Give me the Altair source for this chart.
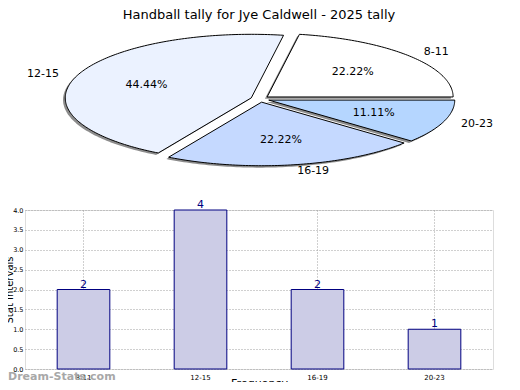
import altair as alt
import numpy as np
import pandas as pd

# ---- data ----
cats = ["8-11", "12-15", "16-19", "20-23"]
counts = [2, 4, 2, 1]
slice_colors = ["#FFFFFF", "#EBF2FF", "#C5D9FF", "#B5D6FF"]
y_ticks = [0.0, 0.5, 1.0, 1.5, 2.0, 2.5, 3.0, 3.5, 4.0]
title_text = "Handball tally for Jye Caldwell - 2025 tally"
watermark = ["Dream-Stats.com"]

FONT = "DejaVu Sans"
EXPLODE = 0.05
total = sum(counts)

# pie geometry derived from the counts (unit circle -> ellipse via scales)
poly_rows, label_rows = [], []
start = 0.0
for c, n in zip(cats, counts):
    span = 360.0 * n / total
    mid = np.radians(start + span / 2)
    ox, oy = EXPLODE * np.cos(mid), EXPLODE * np.sin(mid)
    angs = np.radians(np.linspace(start, start + span, int(round(span)) + 1))
    pts = [(ox, oy)] + [(ox + np.cos(a), oy + np.sin(a)) for a in angs] + [(ox, oy)]
    for k, (px, py) in enumerate(pts):
        poly_rows.append({"cat": c, "k": k, "x": px, "y": py})
    label_rows.append({
        "cat": c,
        "lx": (1.1 + EXPLODE) * np.cos(mid), "ly": (1.1 + EXPLODE) * np.sin(mid),
        "px": (0.6 + EXPLODE) * np.cos(mid), "py": (0.6 + EXPLODE) * np.sin(mid),
        "pct": f"{100.0 * n / total:.2f}%",
        "side": "left" if np.cos(mid) > 0 else "right",
    })
    start += span

poly = pd.DataFrame(poly_rows)
shadow = poly.assign(x=poly.x - 0.012, y=poly.y - 0.03)
labels = pd.DataFrame(label_rows)
bars = pd.DataFrame({"cat": cats, "count": counts})

xs = alt.Scale(domain=[-1, 1], range=[49, 421], nice=False, zero=False)
ys = alt.Scale(domain=[-1, 1], range=[-47.4, -174.6], nice=False, zero=False)

shadow_layer = alt.Chart(shadow).mark_line(
    fill="#8c8c8c", strokeWidth=0, strokeOpacity=0
).encode(
    x=alt.X("x:Q", scale=xs, axis=None),
    y=alt.Y("y:Q", scale=ys, axis=None),
    detail="cat:N", order="k:Q",
)

slice_layers = []
for c, col in zip(cats, slice_colors):
    slice_layers.append(
        alt.Chart(poly).transform_filter(alt.datum.cat == c).mark_line(
            fill=col, stroke="#000000", strokeWidth=1, strokeJoin="miter"
        ).encode(
            x=alt.X("x:Q", scale=xs, axis=None),
            y=alt.Y("y:Q", scale=ys, axis=None),
            order="k:Q",
        )
    )

name_layers = []
for side in ["left", "right"]:
    name_layers.append(
        alt.Chart(labels).transform_filter(alt.datum.side == side).mark_text(
            align=side, baseline="middle", font=FONT, fontSize=11, color="#000000"
        ).encode(
            x=alt.X("lx:Q", scale=xs, axis=None),
            y=alt.Y("ly:Q", scale=ys, axis=None),
            text="cat:N",
        )
    )

pct_layer = alt.Chart(labels).mark_text(
    align="center", baseline="middle", font=FONT, fontSize=11, color="#000000"
).encode(
    x=alt.X("px:Q", scale=xs, axis=None),
    y=alt.Y("py:Q", scale=ys, axis=None),
    text="pct:N",
)

pie = alt.layer(shadow_layer, *slice_layers, *name_layers, pct_layer)

# ---- bar chart ----
bx = alt.X(
    "cat:N", sort=cats,
    scale=alt.Scale(paddingInner=0.55, paddingOuter=0.275),
    axis=alt.Axis(
        title="Frequency", titleFont=FONT, titleFontSize=11, titleFontWeight="normal",
        titleY=8, titleBaseline="top",
        labelAngle=0, labelFont=FONT, labelFontSize=7, labelPadding=4,
        ticks=False, domain=False,
        grid=True, gridDash=[1, 2], gridColor="#a0a0a0",
    ),
)
by = alt.Y(
    "count:Q",
    scale=alt.Scale(domain=[0, 4], nice=False),
    axis=alt.Axis(
        values=y_ticks, format=".1f", labelOverlap=False,
        title="Stat Intervals", titleFont=FONT, titleFontSize=10, titleFontWeight="normal",
        titleX=-11, titleAngle=-90, titleBaseline="bottom",
        labelFont=FONT, labelFontSize=6.5, labelPadding=2, labelColor="#000000",
        ticks=False, domain=False,
        grid=True, gridDash=[1, 2], gridColor="#a0a0a0",
    ),
)

bar_layer = alt.Chart(bars).mark_bar(
    fill="#CCCCE6", stroke="#000080", strokeWidth=1
).encode(x=bx, y=by)

bar_text = alt.Chart(bars).mark_text(
    baseline="bottom", dy=0, font=FONT, fontSize=11, color="#000080"
).encode(x=bx, y=by, text="count:Q")

wm = alt.Chart(pd.DataFrame({"t": watermark})).mark_text(
    align="left", baseline="middle", font=FONT, fontSize=11, fontWeight="bold",
    color="#a8a8a8",
).encode(x=alt.value(-17), y=alt.value(167), text="t:N")

barchart = alt.layer(bar_layer, bar_text, wm)

chart = alt.layer(pie, barchart).resolve_scale(
    x="independent", y="independent"
).properties(
    width=468, height=159,
    padding={"left": 17, "top": 202, "right": 19, "bottom": 13},
    autosize=alt.AutoSizeParams(type="none"),
    title=alt.TitleParams(
        title_text, offset=10, font=FONT, fontSize=13, fontWeight="normal",
        anchor="middle", frame="group", color="#000000",
    ),
).configure_view(
    stroke="#000000", strokeWidth=1
).configure(background="#FFFFFF")

chart.save("out.html", embed_options={"renderer": "svg", "actions": False})
